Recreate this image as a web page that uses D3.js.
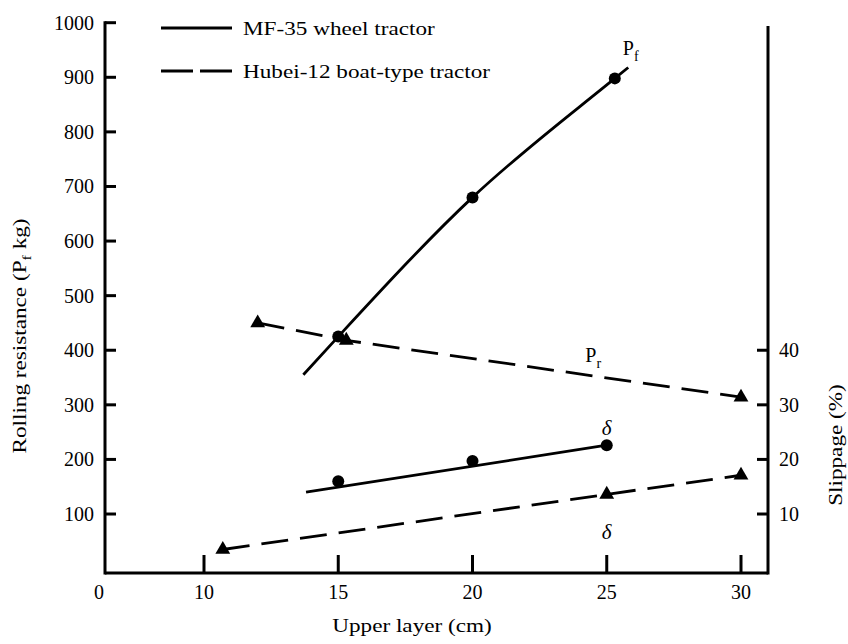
<!DOCTYPE html>
<html>
<head>
<meta charset="utf-8">
<script src="https://cdn.jsdelivr.net/npm/d3@7"></script>
<style>
  body { margin: 0; background: #fff; }
  text { font-family: "Liberation Serif", "Times New Roman", serif; fill: #000; }
</style>
</head>
<body>
<svg id="chart" width="848" height="644"></svg>
<script>
// Axis ticks
const depthTicks = [10, 15, 20, 25, 30];          // upper layer depth, cm
const originLabel = "0";
const resistTicks = [100, 200, 300, 400, 500, 600, 700, 800, 900, 1000]; // kg
const slipTicks = [10, 20, 30, 40];               // %

// MF-35 wheel tractor: rolling resistance Pf (kg)
const mfPfDepth = [15, 20, 25.3];
const mfPf = [425, 680, 898];
const mfPfCurveDepth = [13.7, 15, 20, 25.3, 25.8];
const mfPfCurve = [355, 425, 680, 898, 918];

// MF-35 wheel tractor: slippage δ (%)
const mfSlipDepth = [15, 20, 25];
const mfSlip = [16.0, 19.7, 22.6];
const mfSlipFitDepth = [13.8, 25];
const mfSlipFit = [14.0, 22.6];

// Hubei-12 boat-type tractor: rolling resistance Pr (kg)
const hbPrDepth = [12, 15.3, 30];
const hbPr = [450, 418, 314];

// Hubei-12 boat-type tractor: slippage δ (%)
const hbSlipDepth = [10.7, 25, 30];
const hbSlip = [3.5, 13.6, 17.1];

const legendLabels = ["MF-35 wheel tractor", "Hubei-12 boat-type tractor"];

const svg = d3.select("#chart");
const FS = 20;       // tick numerals
const WS = 19;       // words
const WIDE = 1.22;   // horizontal widening of the word labels

const x = d3.scaleLinear().domain([10, 30]).range([204, 741]);
const yL = d3.scaleLinear().domain([0, 1000]).range([568.6, 22.7]);
const yR = d3.scaleLinear().domain([0, 100]).range([568.6, 22.7]);

const leftX = 105, rightX = 768, baseY = 573, rightTop = 26;

// Frame lines
const axisG = svg.append("g").attr("stroke", "#000").attr("stroke-width", 3).attr("fill", "none");
axisG.append("line").attr("x1", leftX).attr("x2", leftX).attr("y1", yL(1000) - 1.5).attr("y2", baseY + 1.5);
axisG.append("line").attr("x1", leftX).attr("x2", rightX).attr("y1", baseY).attr("y2", baseY);
axisG.append("line").attr("x1", rightX).attr("x2", rightX).attr("y1", rightTop).attr("y2", baseY + 1.5);

// Left axis ticks (inward)
const lt = svg.append("g");
lt.selectAll("line").data(resistTicks).join("line")
  .attr("x1", leftX).attr("x2", leftX + 11)
  .attr("y1", d => yL(d)).attr("y2", d => yL(d))
  .attr("stroke", "#000").attr("stroke-width", 3);
lt.selectAll("text").data(resistTicks).join("text")
  .attr("x", leftX - 11).attr("y", d => yL(d)).attr("dy", "0.35em")
  .attr("text-anchor", "end").attr("font-size", FS).text(d => d);

// Right axis ticks (inward)
const rt = svg.append("g");
rt.selectAll("line").data(slipTicks).join("line")
  .attr("x1", rightX).attr("x2", rightX - 11)
  .attr("y1", d => yR(d)).attr("y2", d => yR(d))
  .attr("stroke", "#000").attr("stroke-width", 3);
rt.selectAll("text").data(slipTicks).join("text")
  .attr("x", rightX + 11).attr("y", d => yR(d)).attr("dy", "0.35em")
  .attr("text-anchor", "start").attr("font-size", FS).text(d => d);

// Bottom axis ticks (upward)
const bt = svg.append("g");
bt.selectAll("line").data(depthTicks).join("line")
  .attr("x1", d => x(d)).attr("x2", d => x(d))
  .attr("y1", baseY).attr("y2", baseY - 18)
  .attr("stroke", "#000").attr("stroke-width", 3);
bt.selectAll("text").data(depthTicks).join("text")
  .attr("x", d => x(d)).attr("y", baseY + 26)
  .attr("text-anchor", "middle").attr("font-size", FS).text(d => d);
bt.append("text").attr("x", leftX - 6).attr("y", baseY + 26)
  .attr("text-anchor", "middle").attr("font-size", FS).text(originLabel);

// Axis titles
svg.append("text").attr("transform", `translate(412,632) scale(${WIDE},1)`)
  .attr("text-anchor", "middle").attr("font-size", WS).text("Upper layer (cm)");
const lTitle = svg.append("text")
  .attr("transform", `translate(26,336) rotate(-90) scale(${WIDE},1)`)
  .attr("text-anchor", "middle").attr("font-size", WS);
lTitle.append("tspan").text("Rolling resistance (P");
lTitle.append("tspan").attr("dy", 5).attr("font-size", 13).text("f");
lTitle.append("tspan").attr("dy", -5).text(" kg)");
svg.append("text").attr("transform", `translate(842,445) rotate(-90) scale(${WIDE},1)`)
  .attr("text-anchor", "middle").attr("font-size", WS).text("Slippage (%)");

// Series lines
const zipL = (xs, ys) => xs.map((v, i) => [x(v), yL(ys[i])]);
const zipR = (xs, ys) => xs.map((v, i) => [x(v), yR(ys[i])]);
const straight = d3.line();
const smooth = d3.line().curve(d3.curveMonotoneX);

const lines = svg.append("g").attr("fill", "none").attr("stroke", "#000").attr("stroke-width", 2.8);
lines.append("path").attr("d", smooth(zipL(mfPfCurveDepth, mfPfCurve)));
lines.append("path").attr("d", straight(zipR(mfSlipFitDepth, mfSlipFit)));
lines.append("path").attr("stroke-dasharray", "27,12").attr("d", straight(zipL(hbPrDepth, hbPr)));
lines.append("path").attr("stroke-dasharray", "27,12").attr("d", straight(zipR(hbSlipDepth, hbSlip)));

// Markers
const tri = d3.symbol().type(d3.symbolTriangle).size(95);
svg.append("g").selectAll("circle").data(zipL(mfPfDepth, mfPf)).join("circle")
  .attr("cx", d => d[0]).attr("cy", d => d[1]).attr("r", 6);
svg.append("g").selectAll("circle").data(zipR(mfSlipDepth, mfSlip)).join("circle")
  .attr("cx", d => d[0]).attr("cy", d => d[1]).attr("r", 6);
svg.append("g").selectAll("path").data(zipL(hbPrDepth, hbPr)).join("path")
  .attr("d", tri).attr("transform", d => `translate(${d[0]},${d[1]})`);
svg.append("g").selectAll("path").data(zipR(hbSlipDepth, hbSlip)).join("path")
  .attr("d", tri).attr("transform", d => `translate(${d[0]},${d[1]})`);

// Curve labels
function subLabel(xv, yv, main, sub) {
  const t = svg.append("text").attr("x", x(xv)).attr("y", yv).attr("font-size", 20);
  t.append("tspan").text(main);
  t.append("tspan").attr("dy", 6).attr("font-size", 14).text(sub);
}
subLabel(25.6, yL(940), "P", "f");
subLabel(24.2, yL(378), "P", "r");
svg.append("text").attr("x", x(25)).attr("y", yR(24.5)).attr("text-anchor", "middle")
  .attr("font-size", 21).attr("font-style", "italic").text("δ");
svg.append("text").attr("x", x(25)).attr("y", yR(5.5)).attr("text-anchor", "middle")
  .attr("font-size", 21).attr("font-style", "italic").text("δ");

// Legend
const lg = svg.append("g");
lg.append("line").attr("x1", 161).attr("x2", 232).attr("y1", 28).attr("y2", 28)
  .attr("stroke", "#000").attr("stroke-width", 3);
lg.append("line").attr("x1", 161).attr("x2", 232).attr("y1", 71).attr("y2", 71)
  .attr("stroke", "#000").attr("stroke-width", 3).attr("stroke-dasharray", "32,7");
lg.selectAll("text").data(legendLabels).join("text")
  .attr("transform", (d, i) => `translate(243,${i === 0 ? 28 : 71}) scale(${WIDE},1)`)
  .attr("dy", "0.35em").attr("font-size", WS).text(d => d);
</script>
</body>
</html>
